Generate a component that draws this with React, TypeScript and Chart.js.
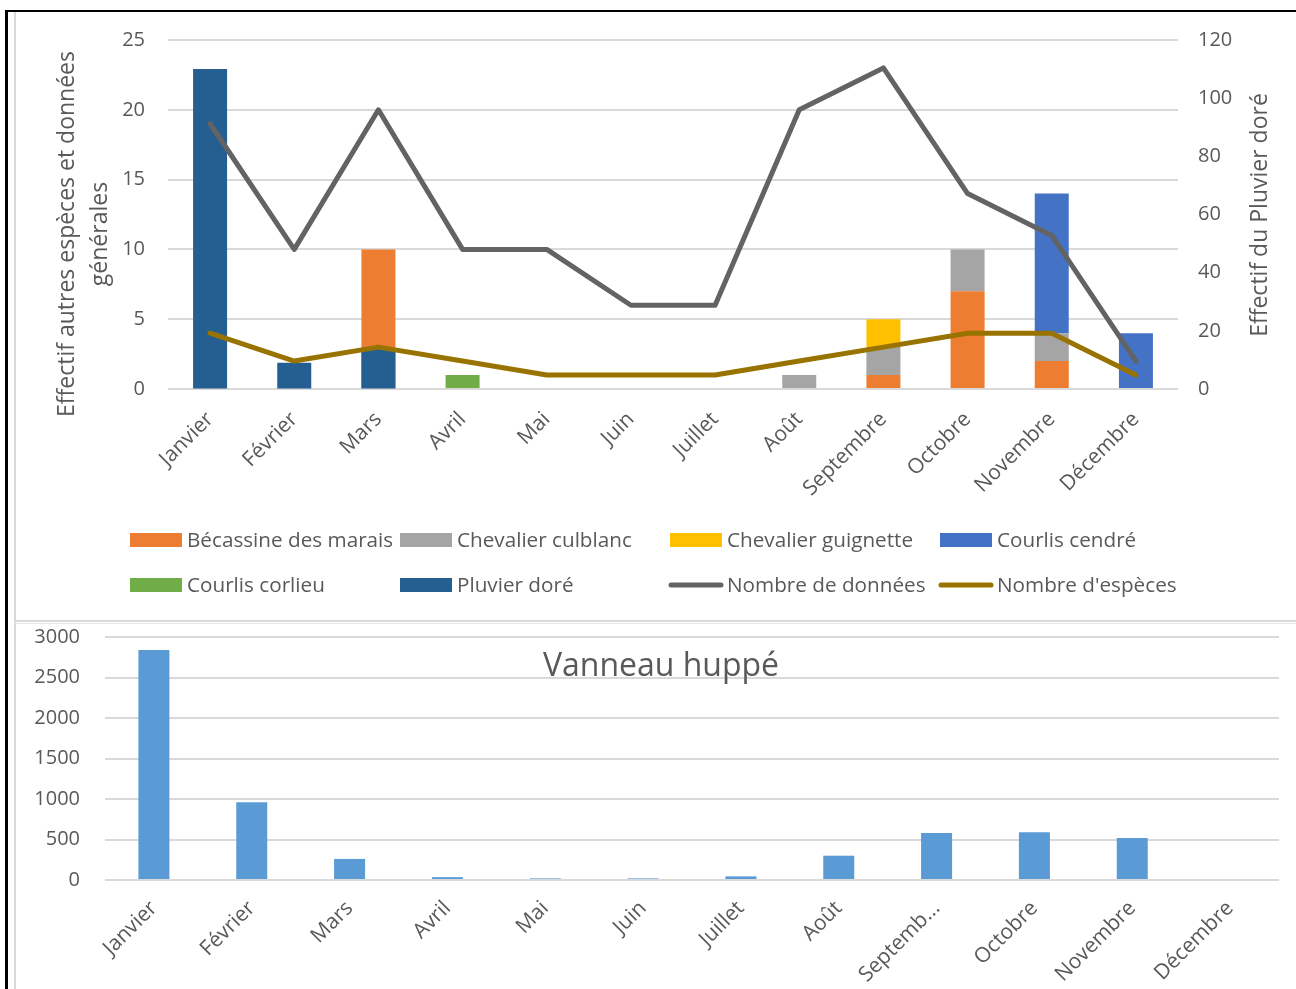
import React, { useEffect, useRef } from "react";
import { Chart, registerables } from "chart.js";

Chart.register(...registerables);

const FONT = "'Open Sans', 'Noto Sans', sans-serif";
const TEXT = "#595959";
const GRID = "#D9D9D9";

const months = ["Janvier", "Février", "Mars", "Avril", "Mai", "Juin", "Juillet", "Août", "Septembre", "Octobre", "Novembre", "Décembre"];
const monthsBottom = ["Janvier", "Février", "Mars", "Avril", "Mai", "Juin", "Juillet", "Août", "Septemb...", "Octobre", "Novembre", "Décembre"];

const becassine = [0, 0, 10, 0, 0, 0, 0, 0, 1, 7, 2, 0];
const culblanc = [0, 0, 0, 0, 0, 0, 0, 1, 2, 3, 2, 0];
const guignette = [0, 0, 0, 0, 0, 0, 0, 0, 2, 0, 0, 0];
const courlisCendre = [0, 0, 0, 0, 0, 0, 0, 0, 0, 0, 10, 4];
const courlisCorlieu = [0, 0, 0, 1, 0, 0, 0, 0, 0, 0, 0, 0];
const pluvierDore = [110, 9, 14, 0, 0, 0, 0, 0, 0, 0, 0, 0];
const nbDonnees = [19, 10, 20, 10, 10, 6, 6, 20, 23, 14, 11, 2];
const nbEspeces = [4, 2, 3, 2, 1, 1, 1, 2, 3, 4, 4, 1];
const vanneau = [2840, 960, 260, 35, 20, 20, 45, 300, 580, 590, 520, 0];

const leftTicksMax = 25;
const rightTicksMax = 120;
const bottomTicksMax = 3000;

const leftTitle = ["Effectif autres espèces et données", "générales"];
const rightTitle = "Effectif du Pluvier doré";
const bottomTitle = "Vanneau huppé";

const legendOrder = [
  "Bécassine des marais", "Chevalier culblanc", "Chevalier guignette", "Courlis cendré",
  "Courlis corlieu", "Pluvier doré", "Nombre de données", "Nombre d'espèces",
];

const topPlugin = {
  id: "topDecor",
  afterDraw(chart: any) {
    const ctx = chart.ctx;
    ctx.save();
    ctx.fillStyle = TEXT;
    ctx.textBaseline = "middle";
    ctx.textAlign = "center";
    ctx.font = `23px ${FONT}`;
    leftTitle.forEach((t, i) => {
      ctx.save();
      ctx.translate(67 + i * 33, 234);
      ctx.rotate(-Math.PI / 2);
      ctx.fillText(t, 0, 0);
      ctx.restore();
    });
    ctx.save();
    ctx.translate(1260, 215);
    ctx.rotate(-Math.PI / 2);
    ctx.fillText(rightTitle, 0, 0);
    ctx.restore();

    // legend
    const cols = [130, 400, 670, 940];
    const rows = [540, 585];
    ctx.textAlign = "left";
    ctx.font = `20.7px ${FONT}`;
    legendOrder.forEach((name, i) => {
      const ds = chart.data.datasets.find((d: any) => d.label === name);
      if (!ds) return;
      const x = cols[i % 4];
      const y = rows[Math.floor(i / 4)];
      if (ds.type === "line") {
        ctx.strokeStyle = ds.borderColor;
        ctx.lineWidth = 5;
        ctx.lineCap = "round";
        ctx.beginPath();
        ctx.moveTo(x + 1, y);
        ctx.lineTo(x + 51, y);
        ctx.stroke();
      } else {
        ctx.fillStyle = ds.backgroundColor;
        ctx.fillRect(x, y - 7, 52, 14);
      }
      ctx.fillStyle = TEXT;
      ctx.fillText(name, x + 57, y + 1);
    });
    ctx.restore();
  },
};

const bottomPlugin = {
  id: "bottomDecor",
  afterDraw(chart: any) {
    const ctx = chart.ctx;
    ctx.save();
    ctx.fillStyle = TEXT;
    ctx.font = `32px ${FONT}`;
    ctx.textAlign = "center";
    ctx.textBaseline = "middle";
    ctx.fillText(bottomTitle, 661, 77);
    ctx.restore();
  },
};

const tickFont = { family: FONT, size: 20 };
const xTickFont = { family: FONT, size: 21 };

function TopChart() {
  const ref = useRef<HTMLCanvasElement>(null);
  useEffect(() => {
    const barCommon = { yAxisID: "y", stack: "s", order: 2, borderWidth: 0 };
    const chart = new Chart(ref.current as HTMLCanvasElement, {
      type: "bar",
      data: {
        labels: months,
        datasets: [
          { type: "line", label: "Nombre de données", data: nbDonnees, borderColor: "#636363", backgroundColor: "#636363", borderWidth: 5, pointRadius: 0, yAxisID: "y", stack: "l1", order: 0, borderJoinStyle: "round", borderCapStyle: "round", tension: 0 } as any,
          { type: "line", label: "Nombre d'espèces", data: nbEspeces, borderColor: "#997300", backgroundColor: "#997300", borderWidth: 5, pointRadius: 0, yAxisID: "y", stack: "l2", order: 0, borderJoinStyle: "round", borderCapStyle: "round", tension: 0 } as any,
          { type: "bar", label: "Pluvier doré", data: pluvierDore, backgroundColor: "#255E91", yAxisID: "y1", stack: "p", order: 1, borderWidth: 0 } as any,
          { type: "bar", label: "Bécassine des marais", data: becassine, backgroundColor: "#ED7D31", ...barCommon } as any,
          { type: "bar", label: "Chevalier culblanc", data: culblanc, backgroundColor: "#A5A5A5", ...barCommon } as any,
          { type: "bar", label: "Chevalier guignette", data: guignette, backgroundColor: "#FFC000", ...barCommon } as any,
          { type: "bar", label: "Courlis cendré", data: courlisCendre, backgroundColor: "#4472C4", ...barCommon } as any,
          { type: "bar", label: "Courlis corlieu", data: courlisCorlieu, backgroundColor: "#70AD47", ...barCommon } as any,
        ],
      },
      options: {
        animation: false,
        responsive: false,
        layout: { padding: { top: 40, left: 0, right: 0, bottom: 0 } },
        datasets: { bar: { grouped: false, categoryPercentage: 1, barPercentage: 0.404 } } as any,
        plugins: { legend: { display: false }, tooltip: { enabled: false } },
        scales: {
          x: {
            stacked: true,
            grid: { display: false },
            border: { display: false },
            ticks: { color: TEXT, font: xTickFont, maxRotation: 45, minRotation: 45, padding: 10, autoSkip: false },
            afterFit: (s: any) => { s.height = 231; },
          },
          y: {
            position: "left",
            stacked: true,
            min: 0,
            max: leftTicksMax,
            ticks: { stepSize: 5, padding: 23, color: TEXT, font: tickFont },
            grid: { color: GRID, lineWidth: 2, drawTicks: false },
            border: { display: false },
            afterFit: (s: any) => { s.width = 168; },
          },
          y1: {
            position: "right",
            min: 0,
            max: rightTicksMax,
            ticks: { stepSize: 20, padding: 20, color: TEXT, font: tickFont },
            grid: { drawOnChartArea: false, drawTicks: false },
            border: { display: false },
            afterFit: (s: any) => { s.width = 118; },
          },
        },
      } as any,
      plugins: [topPlugin],
    });
    return () => chart.destroy();
  }, []);
  return <canvas ref={ref} width={1296} height={620} style={{ position: "absolute", left: 0, top: 0, width: 1296, height: 620 }} />;
}

function BottomChart() {
  const ref = useRef<HTMLCanvasElement>(null);
  useEffect(() => {
    const chart = new Chart(ref.current as HTMLCanvasElement, {
      type: "bar",
      data: {
        labels: monthsBottom,
        datasets: [
          { label: "Vanneau huppé", data: vanneau, backgroundColor: "#5B9BD5", borderWidth: 0, categoryPercentage: 1, barPercentage: 0.317 },
        ],
      },
      options: {
        animation: false,
        responsive: false,
        layout: { padding: { top: 47, left: 0, right: 17, bottom: 0 } },
        plugins: { legend: { display: false }, tooltip: { enabled: false } },
        scales: {
          x: {
            grid: { display: false },
            border: { display: false },
            ticks: { color: TEXT, font: xTickFont, maxRotation: 45, minRotation: 45, padding: 8, autoSkip: false },
            afterFit: (s: any) => { s.height = 109; },
          },
          y: {
            min: 0,
            max: bottomTicksMax,
            ticks: { stepSize: 500, padding: 25, color: TEXT, font: tickFont, callback: (v: any) => String(v) },
            grid: { color: GRID, lineWidth: 2, drawTicks: false },
            border: { display: false },
            afterFit: (s: any) => { s.width = 105; },
          },
        },
      } as any,
      plugins: [bottomPlugin],
    });
    return () => chart.destroy();
  }, []);
  return <canvas ref={ref} width={1296} height={399} style={{ position: "absolute", left: 0, top: 590, width: 1296, height: 399 }} />;
}

export default function App() {
  return (
    <div style={{ position: "absolute", left: 0, top: 0, width: 1296, height: 989, background: "#fff", overflow: "hidden" }}>
      <TopChart />
      <BottomChart />
      <div style={{ position: "absolute", left: 5, top: 10, width: 1291, height: 2, background: "#000" }} />
      <div style={{ position: "absolute", left: 5, top: 10, width: 3, height: 979, background: "#000" }} />
      <div style={{ position: "absolute", left: 14, top: 12, width: 2, height: 977, background: GRID }} />
      <div style={{ position: "absolute", left: 14, top: 620, width: 1282, height: 2, background: GRID }} />
      <div style={{ position: "absolute", left: 14, top: 623, width: 1282, height: 1, background: "#E6E6E6" }} />
    </div>
  );
}
